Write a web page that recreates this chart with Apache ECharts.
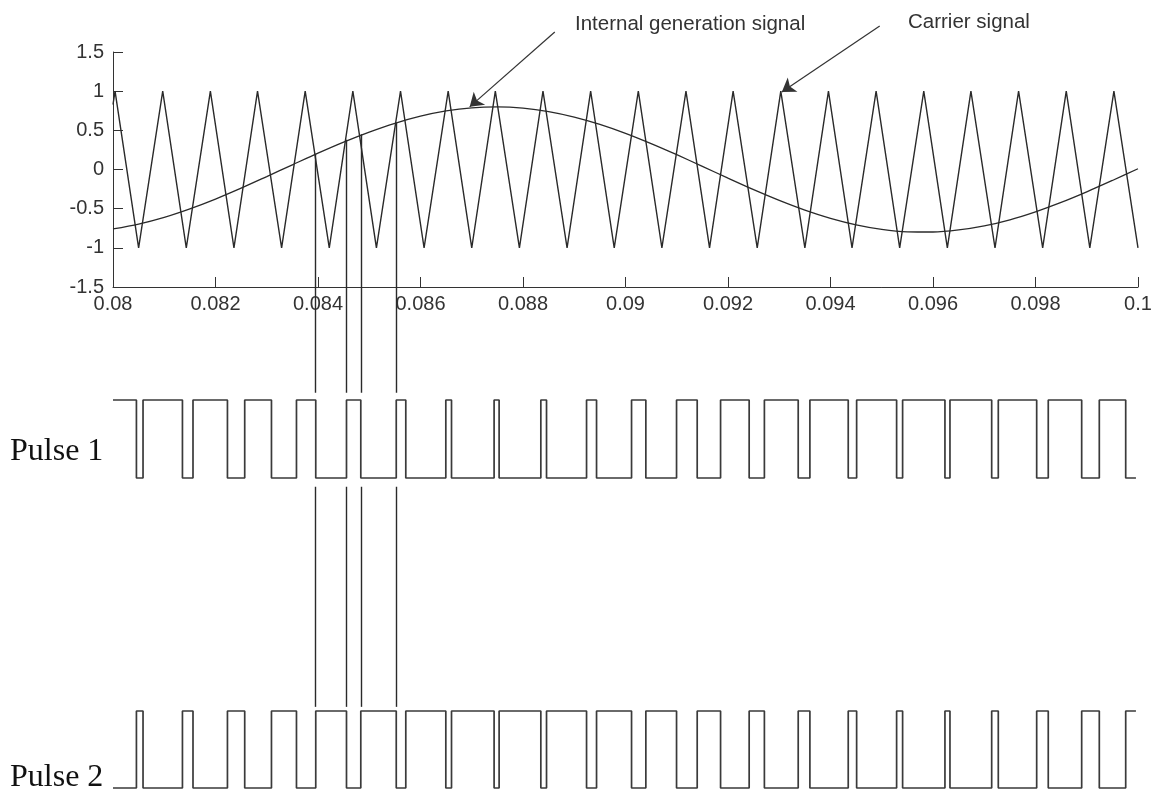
<!DOCTYPE html>
<html>
<head>
<meta charset="utf-8">
<script src="https://cdn.jsdelivr.net/npm/echarts@6/dist/echarts.min.js"></script>
<style>html,body{margin:0;padding:0;background:#fff}#c{width:1154px;height:790px}</style>
</head>
<body>
<div id="c"></div>
<script>
// ---- data ----
const sineTime = [0.0800,0.0805,0.0810,0.0815,0.0820,0.0825,0.0830,0.0835,0.0840,0.0845,0.0850,0.0855,0.0860,0.0865,0.0870,0.0875,0.0880,0.0885,0.0890,0.0895,0.0900,0.0905,0.0910,0.0915,0.0920,0.0925,0.0930,0.0935,0.0940,0.0945,0.0950,0.0955,0.0960,0.0965,0.0970,0.0975,0.0980,0.0985,0.0990,0.0995,0.1000];
const sineValue = [-0.758,-0.696,-0.610,-0.502,-0.377,-0.238,-0.090,0.060,0.209,0.350,0.478,0.590,0.681,0.748,0.788,0.800,0.784,0.740,0.670,0.576,0.462,0.331,0.189,0.040,-0.110,-0.257,-0.394,-0.518,-0.623,-0.706,-0.764,-0.795,-0.798,-0.772,-0.720,-0.642,-0.540,-0.420,-0.285,-0.140,0.010];

const carrierTime = [0.08000,0.08004,0.08050,0.08097,0.08143,0.08190,0.08236,0.08282,0.08329,0.08375,0.08422,0.08468,0.08514,0.08561,0.08607,0.08654,0.08700,0.08746,0.08793,0.08839,0.08886,0.08932,0.08978,0.09025,0.09071,0.09118,0.09164,0.09210,0.09257,0.09303,0.09350,0.09396,0.09442,0.09489,0.09535,0.09582,0.09628,0.09674,0.09721,0.09767,0.09814,0.09860,0.09906,0.09953,0.10000];
const carrierValue = [0.83,1,-1,1,-1,1,-1,1,-1,1,-1,1,-1,1,-1,1,-1,1,-1,1,-1,1,-1,1,-1,1,-1,1,-1,1,-1,1,-1,1,-1,1,-1,1,-1,1,-1,1,-1,1,-1];

// switching instants of the two pulse trains (identical edges, complementary levels)
const pulseEdges = [0.080457,0.080586,0.081355,0.081561,0.082233,0.082570,0.083092,0.083580,0.083956,0.084556,0.084835,0.085527,0.085713,0.086494,0.086605,0.087436,0.087534,0.088348,0.088459,0.089240,0.089435,0.090118,0.090397,0.090996,0.091399,0.091855,0.092413,0.092710,0.093370,0.093598,0.094346,0.094510,0.095290,0.095407,0.096233,0.096331,0.097145,0.097274,0.098023,0.098249,0.098901,0.099245,0.099760];
const pulseStart = 0.08, pulseEnd = 0.09996;
const pulse1Initial = 1, pulse2Initial = 0;

// guide lines dropped from the intersections
const guideTime = [0.083956,0.084556,0.084835,0.085527];
const guideTop  = [0.20,0.38,0.45,0.60];

const xTickMin = 0.08, xTickMax = 0.1, xTickStep = 0.002;
const yTickMin = -1.5, yTickMax = 1.5, yTickStep = 0.5;

const annotations = [
  {text:'Internal generation signal', from:[0.08862,1.755], to:[0.08696,0.80]},
  {text:'Carrier signal', from:[0.09496,1.832], to:[0.09305,0.99]}
];

// ---- build ----
function pulseData(initial){
  const d=[[pulseStart, initial]]; let lv=initial;
  pulseEdges.forEach(t=>{ lv=1-lv; d.push([t,lv]); });
  d.push([pulseEnd, lv]);
  return d;
}
const sineData = sineTime.map((t,i)=>[t,sineValue[i]]);
const carrierData = carrierTime.map((t,i)=>[t,carrierValue[i]]);

// guide segments expressed in the top plot's value units (extended below the axis)
const gapA = -2.85, gapB1 = -4.05, gapB2 = -6.86;
const guideSegs = [];
guideTime.forEach((t,i)=>{
  guideSegs.push({coords:[[t,guideTop[i]],[t,gapA]]});
  guideSegs.push({coords:[[t,gapB1],[t,gapB2]]});
});

const LINE = '#2a2a2a';
const fmtX = v => String(Number(v.toFixed(4)));
const fmtY = v => String(Number(v.toFixed(2)));

const hiddenX = i => ({type:'value', gridIndex:i, min:xTickMin, max:xTickMax, show:false});
const hiddenY = i => ({type:'value', gridIndex:i, min:0, max:1, show:false});

const chart = echarts.init(document.getElementById('c'));
chart.setOption({
  animation:false,
  backgroundColor:'#fff',
  grid:[
    {left:113, right:16, top:52, height:235, containLabel:false, outerBoundsMode:'none'},
    {left:113, right:16, top:400, height:78, containLabel:false, outerBoundsMode:'none'},
    {left:113, right:16, top:711, height:77, containLabel:false, outerBoundsMode:'none'}
  ],
  xAxis:[
    {type:'value', gridIndex:0, min:xTickMin, max:xTickMax, interval:xTickStep,
     axisLine:{show:true, onZero:false, lineStyle:{color:'#333', width:1}},
     axisTick:{show:true, inside:true, length:10, lineStyle:{color:'#333'}},
     axisLabel:{show:true, margin:7, fontSize:20, fontFamily:'"Liberation Sans", Arial, sans-serif', color:'#333', formatter:fmtX},
     splitLine:{show:false}},
    hiddenX(1), hiddenX(2)
  ],
  yAxis:[
    {type:'value', gridIndex:0, min:yTickMin, max:yTickMax, interval:yTickStep,
     axisLine:{show:true, onZero:false, lineStyle:{color:'#333', width:1}},
     axisTick:{show:true, inside:true, length:10, lineStyle:{color:'#333'}},
     axisLabel:{show:true, margin:9, fontSize:20, fontFamily:'"Liberation Sans", Arial, sans-serif', color:'#333', formatter:fmtY},
     splitLine:{show:false}},
    hiddenY(1), hiddenY(2)
  ],
  series:[
    {type:'line', name:'Carrier signal', xAxisIndex:0, yAxisIndex:0, data:carrierData, showSymbol:false, symbol:'none',
     lineStyle:{color:LINE, width:1.4}},
    {type:'line', name:'Internal generation signal', xAxisIndex:0, yAxisIndex:0, data:sineData, showSymbol:false, symbol:'none', smooth:0.3,
     lineStyle:{color:LINE, width:1.3}},
    {type:'line', name:'Pulse 1', xAxisIndex:1, yAxisIndex:1, data:pulseData(pulse1Initial), step:'end', showSymbol:false, symbol:'none', clip:false,
     lineStyle:{color:'#3a3a3a', width:1.7}},
    {type:'line', name:'Pulse 2', xAxisIndex:2, yAxisIndex:2, data:pulseData(pulse2Initial), step:'end', showSymbol:false, symbol:'none', clip:false,
     lineStyle:{color:'#3a3a3a', width:1.7}},
    {type:'lines', coordinateSystem:'cartesian2d', xAxisIndex:0, yAxisIndex:0, clip:false, polyline:false,
     symbol:['none','none'], lineStyle:{color:LINE, width:1.4, opacity:1, curveness:0}, data:guideSegs, silent:true},
    {type:'lines', coordinateSystem:'cartesian2d', xAxisIndex:0, yAxisIndex:0, clip:false, polyline:false,
     symbol:['none','arrow'], symbolSize:13, lineStyle:{color:'#333', width:1.2, opacity:1, curveness:0},
     data:annotations.map(a=>({coords:[a.from,a.to]})), silent:true}
  ],
  graphic:[
    {type:'text', x:575, y:24, style:{text:annotations[0].text, fontSize:20.5, fontFamily:'"Liberation Sans", Arial, sans-serif', fill:'#333', verticalAlign:'middle'}},
    {type:'text', x:908, y:22, style:{text:annotations[1].text, fontSize:20.5, fontFamily:'"Liberation Sans", Arial, sans-serif', fill:'#333', verticalAlign:'middle'}},
    {type:'text', x:10, y:452, style:{text:'Pulse 1', fontSize:32, fontFamily:'"Liberation Serif", "Times New Roman", serif', fill:'#111', verticalAlign:'middle'}},
    {type:'text', x:10, y:778, style:{text:'Pulse 2', fontSize:32, fontFamily:'"Liberation Serif", "Times New Roman", serif', fill:'#111', verticalAlign:'middle'}}
  ]
});
</script>
</body>
</html>
